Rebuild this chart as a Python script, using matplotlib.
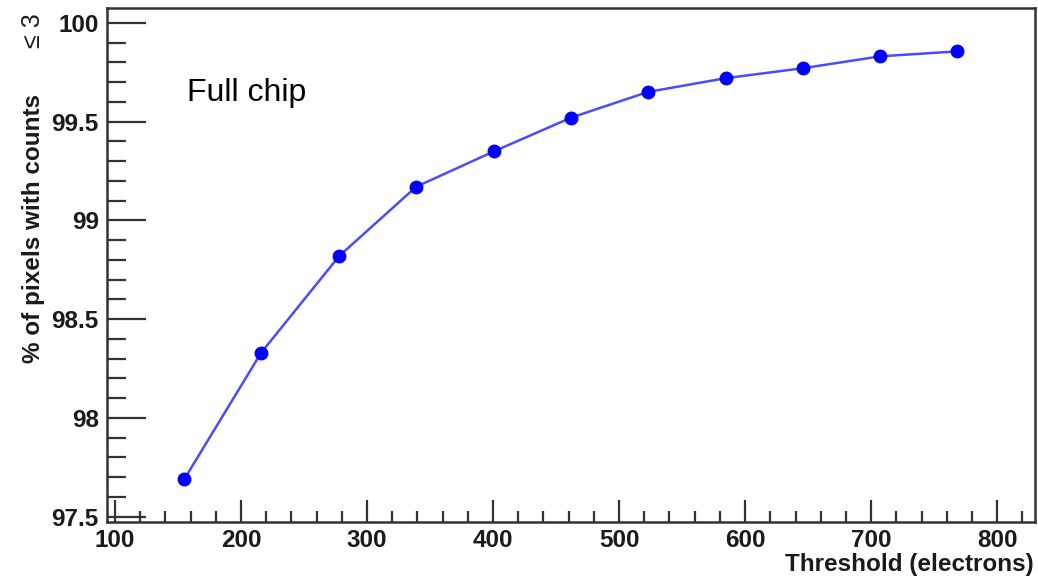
import matplotlib
matplotlib.use("Agg")
import matplotlib.pyplot as plt
from matplotlib.ticker import MultipleLocator

# Threshold scan: fraction of pixels with low hit counts
threshold = [155, 216, 278, 339, 401, 462, 523, 585, 646, 707, 768]
pct_pixels = [97.69, 98.33, 98.82, 99.17, 99.35, 99.52, 99.65, 99.72, 99.77, 99.83, 99.855]

xticks = [100, 200, 300, 400, 500, 600, 700, 800]
yticks = [97.5, 98, 98.5, 99, 99.5, 100]
ytick_labels = ["97.5", "98", "98.5", "99", "99.5", "100"]

plt.rcParams["font.family"] = ["Liberation Sans", "DejaVu Sans"]

fig = plt.figure(figsize=(10.38, 5.8), dpi=100)
ax = fig.add_axes([0.1031, 0.1005, 0.894, 0.8865])

ax.plot(threshold, pct_pixels, color="#4a4aff", lw=1.8, zorder=2)
ax.plot(threshold, pct_pixels, ls="none", marker="o", ms=9,
        color="#0000ff", mec="#0000ff", zorder=3)

ax.set_xlim(93.7, 830)
ax.set_ylim(97.475, 100.077)

ax.set_xticks(xticks)
ax.set_xticklabels([str(t) for t in xticks])
ax.set_yticks(yticks)
ax.set_yticklabels(ytick_labels)
ax.xaxis.set_minor_locator(MultipleLocator(20))
ax.yaxis.set_minor_locator(MultipleLocator(0.1))

for side in ax.spines.values():
    side.set_color("#333333")
    side.set_linewidth(1.8)

ax.tick_params(axis="both", which="both", direction="in", color="#333333",
               width=1.6, top=False, right=False)
ax.tick_params(axis="y", which="major", length=28, pad=6)
ax.tick_params(axis="y", which="minor", length=14)
ax.tick_params(axis="x", which="major", length=16, pad=5)
ax.tick_params(axis="x", which="minor", length=8)
for lab in ax.get_xticklabels() + ax.get_yticklabels():
    lab.set_fontsize(17.5)
    lab.set_fontweight("bold")
    lab.set_color("#1a1a1a")

ax.text(157, 99.644, "Full chip", fontsize=23, color="black",
        ha="left", va="center")

fig.text(0.9955, 0.026, "Threshold (electrons)", fontsize=17.5,
         fontweight="bold", color="#1a1a1a", ha="right", va="center")
fig.text(0.032, 1 - 94 / 580, "% of pixels with counts", fontsize=17.5,
         fontweight="bold", color="#1a1a1a", rotation=90,
         ha="center", va="top")
fig.text(0.032, 1 - 13 / 580, "\u2264 3", fontsize=18, color="#1a1a1a",
         rotation=90, ha="center", va="top")

fig.savefig("out.png", dpi=100, facecolor="white")
